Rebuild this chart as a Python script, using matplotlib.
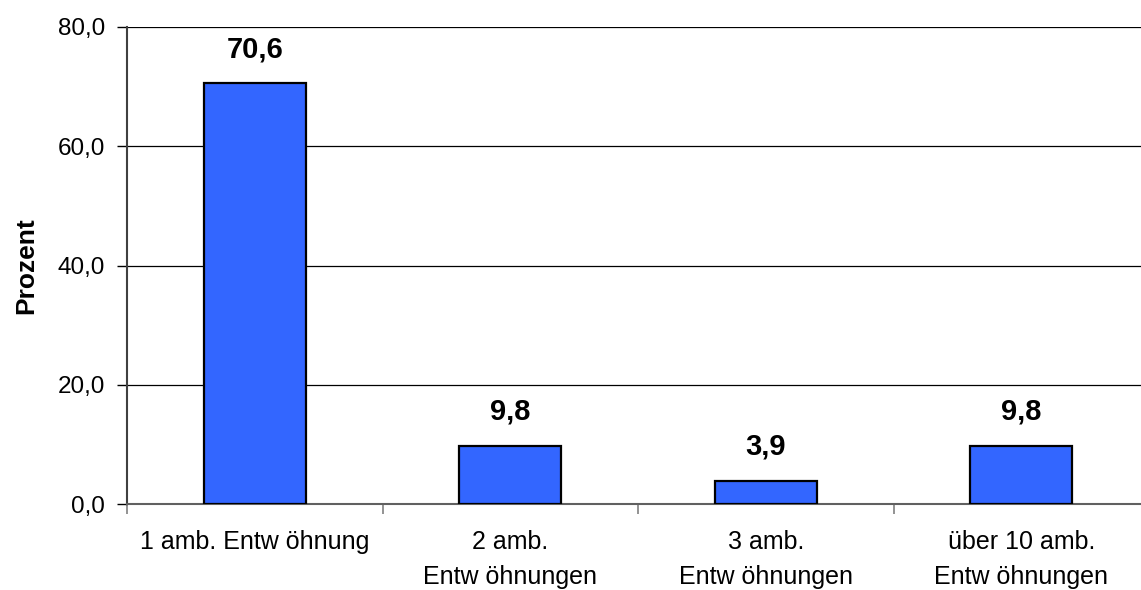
import matplotlib
matplotlib.use("Agg")
import matplotlib.pyplot as plt

categories = ["1 amb. Entw öhnung", "2 amb.\nEntw öhnungen", "3 amb.\nEntw öhnungen", "über 10 amb.\nEntw öhnungen"]
values = [70.6, 9.8, 3.9, 9.8]
yticks = [0, 20, 40, 60, 80]

plt.rcParams["font.family"] = ["Liberation Sans", "DejaVu Sans"]

fig = plt.figure(figsize=(11.41, 5.90), dpi=100)
ax = fig.add_axes([127 / 1141, 86 / 590, 1022 / 1141, 477 / 590])

x = list(range(len(values)))
ax.bar(x, values, width=0.40, color="#3366FF", edgecolor="black", linewidth=1.6, zorder=3)

for xi, v in zip(x, values):
    ax.text(xi, v + 5.7, f"{v:.1f}".replace(".", ","), ha="center", va="center",
            fontsize=21, fontweight="bold", zorder=4)

ax.set_xlim(-0.5, len(values) - 0.5)
ax.set_ylim(0, 80)
ax.set_yticks(yticks)
ax.set_yticklabels([f"{t:.1f}".replace(".", ",") for t in yticks], fontsize=17.5)
ax.yaxis.grid(True, color="black", linewidth=0.9, zorder=0)
ax.set_axisbelow(True)

ax.set_xticks([i + 0.5 for i in range(len(values) - 1)] + [-0.5])
ax.set_xticklabels([])
ax.set_xticks(x, minor=True)
ax.set_xticklabels(categories, minor=True, fontsize=18, linespacing=1.55)
ax.tick_params(axis="x", which="minor", length=0, pad=19)
ax.tick_params(axis="x", which="major", length=7, color="#808080", width=1.2)
ax.tick_params(axis="y", length=7, width=1.0, pad=9)
for lbl in ax.get_xticklabels(minor=True):
    lbl.set_verticalalignment("top")

for side in ["top", "right"]:
    ax.spines[side].set_visible(False)
ax.spines["left"].set_color("#404040")
ax.spines["left"].set_linewidth(1.5)
ax.spines["bottom"].set_color("#606060")
ax.spines["bottom"].set_linewidth(1.5)

ax.set_ylabel("Prozent", fontsize=19, fontweight="bold", labelpad=14)

fig.savefig("out.png", dpi=100)
